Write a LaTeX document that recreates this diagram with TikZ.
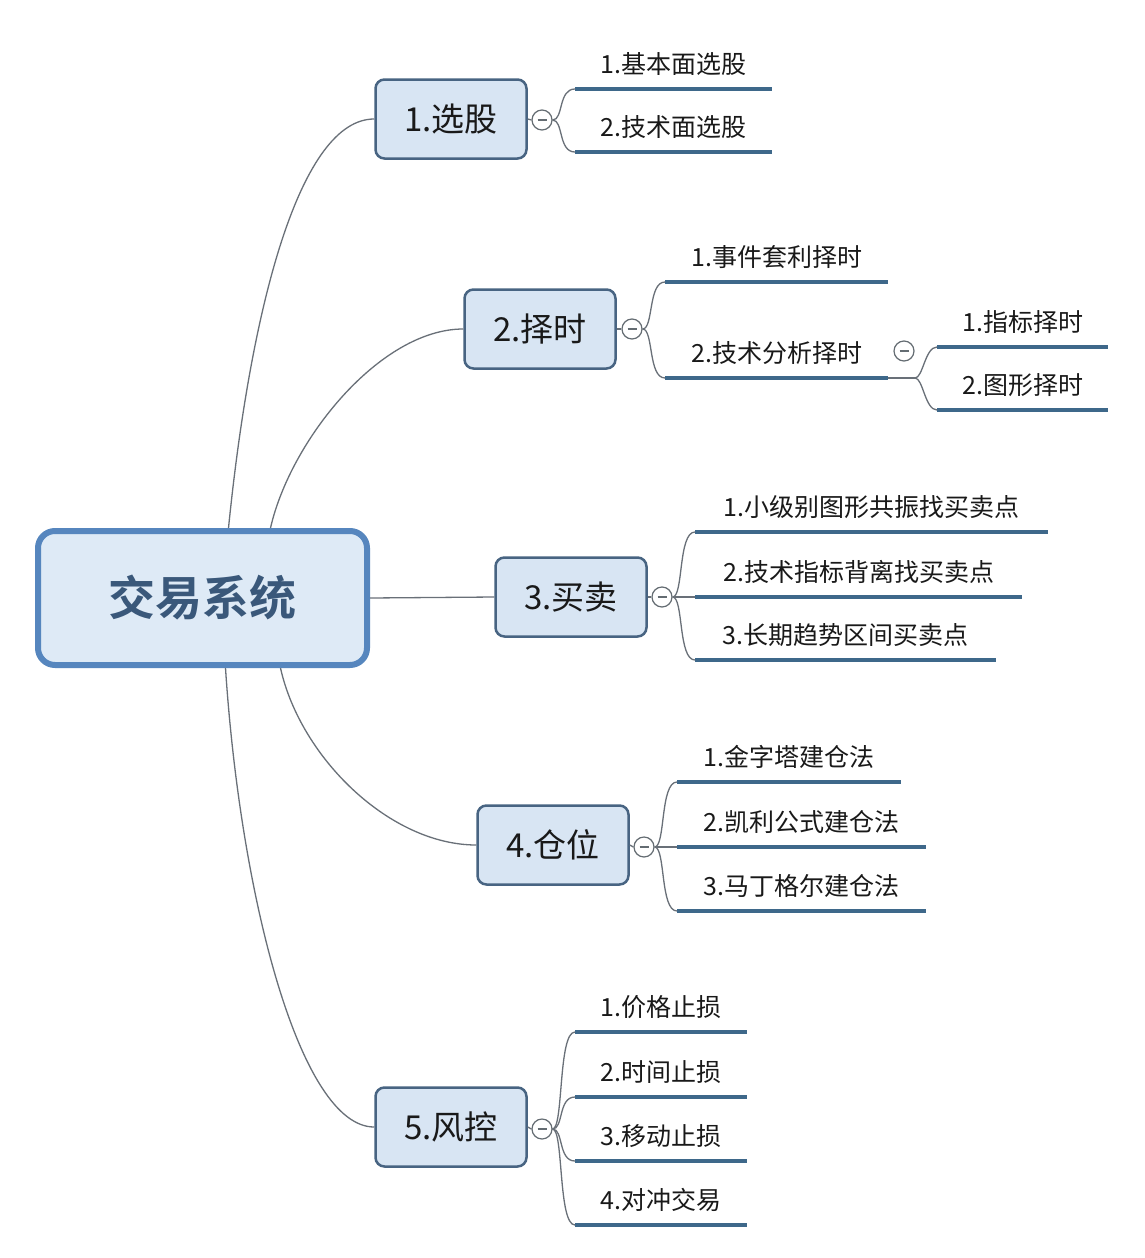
\documentclass[tikz,border=0pt]{standalone}
\usepackage{fontspec}
\setmainfont{Noto Sans CJK SC}[BoldFont={Noto Sans CJK SC Bold}]
\usetikzlibrary{calc}
\usepackage{xcolor}
\definecolor{rootline}{RGB}{86,134,190}
\definecolor{rootfill}{RGB}{222,234,246}
\definecolor{roottext}{RGB}{58,88,122}
\definecolor{boxline}{RGB}{72,100,130}
\definecolor{boxfill}{RGB}{216,229,243}
\definecolor{ulinec}{RGB}{62,104,138}
\definecolor{connc}{RGB}{105,112,120}
\definecolor{foldc}{RGB}{100,108,114}
\definecolor{txt}{RGB}{25,25,25}

\begin{document}
\begin{tikzpicture}[x=1pt, y=-1pt,
 root/.style={draw=rootline, line width=6pt, fill=rootfill, rounded corners=17pt, minimum width=329pt, minimum height=134pt, font=\fontsize{47}{50}\selectfont\bfseries, text=roottext},
 topic/.style={draw=boxline, line width=2.5pt, fill=boxfill, rounded corners=9pt, minimum width=151pt, minimum height=79pt, font=\fontsize{33}{36}\selectfont, text=txt},
 leaf/.style={anchor=south west, inner xsep=0pt, inner ysep=10.5pt, text height=19pt, text depth=5pt, font=\fontsize{25}{28}\selectfont, text=txt},
 uline/.style={draw=ulinec, line width=4.5pt},
 conn/.style={draw=connc, line width=1.3pt},
 fold/.style={circle, draw=foldc, line width=1.2pt, fill=white, minimum size=20pt, inner sep=0pt,
  path picture={\draw[foldc, line width=1.2pt] ([xshift=-4.5pt]path picture bounding box.center) -- ([xshift=4.5pt]path picture bounding box.center);}}]
\useasboundingbox[fill=white] (0,0) rectangle (1144,1258);

% centre and main topics
\node[root] (root) at (202.5,598) {交易系统};
\node[topic] (b1) at (451,119) {1.选股};
\node[topic] (b2) at (540,329) {2.择时};
\node[topic] (b3) at (571,597) {3.买卖};
\node[topic] (b4) at (553,845) {4.仓位};
\node[topic] (b5) at (451,1127) {5.风控};

\draw[conn] ([xshift=26]root.north) .. controls +(23,-228) and +(-73,0) .. (b1.west);
\draw[conn] ([xshift=68]root.north) .. controls +(20,-88) and +(-83,0) .. (b2.west);
\draw[conn] (root.east) -- (b3.west);
\draw[conn] ([xshift=78]root.south) .. controls +(20,90) and +(-86,0) .. (b4.west);
\draw[conn] ([xshift=23]root.south) .. controls +(15,230) and +(-74,0) .. (b5.west);

% fold marks
\node[fold] (f1) at (542,120) {};
\node[fold] (f2) at (632,329) {};
\node[fold] (f3) at (662,597) {};
\node[fold] (f4) at (644,847) {};
\node[fold] (f5) at (542,1129) {};
\foreach \i in {1,...,5} \draw[conn] (b\i.east) -- (f\i.west);

% leaves
\foreach \y/\t [count=\i] in {89/1.基本面选股, 152/2.技术面选股}
 \node[leaf, minimum width=197pt] (l1\i) at (575,\y) {\t};
\foreach \y/\t [count=\i] in {282/1.事件套利择时, 378/2.技术分析择时}
 \node[leaf, minimum width=223pt] (l2\i) at (665,\y) {\t};
\foreach \y/\w/\t [count=\i] in {532/353/1.小级别图形共振找买卖点, 597/327/2.技术指标背离找买卖点, 660/301/3.长期趋势区间买卖点}
 \node[leaf, minimum width=\w pt] (l3\i) at (695,\y) {\t};
\foreach \y/\w/\t [count=\i] in {782/224/1.金字塔建仓法, 847/249/2.凯利公式建仓法, 911/249/3.马丁格尔建仓法}
 \node[leaf, minimum width=\w pt] (l4\i) at (677,\y) {\t};
\foreach \y/\t [count=\i] in {1032/1.价格止损, 1097/2.时间止损, 1161/3.移动止损, 1225/4.对冲交易}
 \node[leaf, minimum width=172pt] (l5\i) at (575,\y) {\t};
\foreach \y/\t [count=\i] in {347/1.指标择时, 410/2.图形择时}
 \node[leaf, minimum width=171pt] (m\i) at (937,\y) {\t};

\foreach \g/\n in {1/2, 2/2, 3/3, 4/3, 5/4}
 \foreach \i in {1,...,\n}
  \draw[conn] (f\g.east) .. controls +(11,0) and +(-17,0) .. (l\g\i.south west);

% second level under 2.技术分析择时
\coordinate (j22) at (915,378);
\node[fold] (f22) at (904,351) {};
\draw[conn] (l22.south east) -- (j22);
\foreach \i in {1,2}
 \draw[conn] (j22) .. controls +(8,0) and +(-12,0) .. (m\i.south west);

\foreach \g/\n in {1/2, 2/2, 3/3, 4/3, 5/4}
 \foreach \i in {1,...,\n}
  \draw[uline] (l\g\i.south west) -- (l\g\i.south east);
\foreach \i in {1,2} \draw[uline] (m\i.south west) -- (m\i.south east);
\end{tikzpicture}
\end{document}
